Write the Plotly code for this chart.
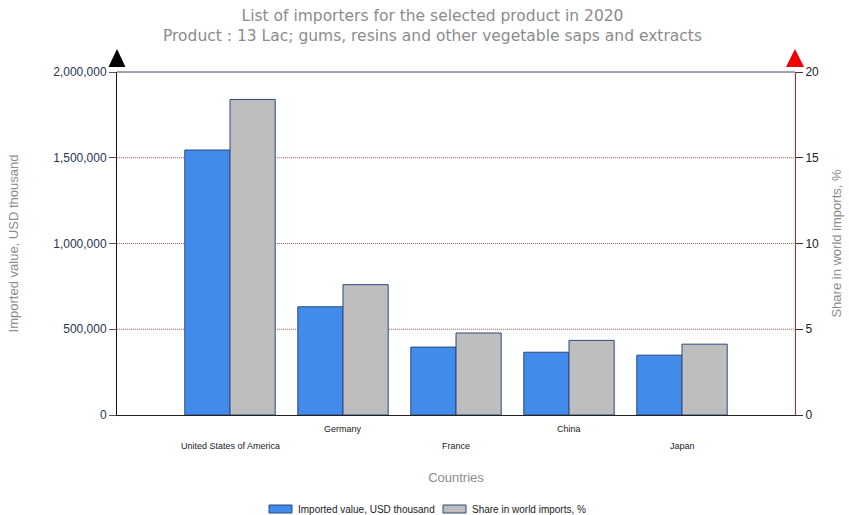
import plotly.graph_objects as go

countries = ["United States of America", "Germany", "France", "China", "Japan"]
imported_value = [1545000, 631000, 396000, 366000, 349000]   # USD thousand
world_share = [18.4, 7.6, 4.78, 4.35, 4.13]                   # %
positions = [1, 2, 3, 4, 5]
left_ticks = [0, 500000, 1000000, 1500000, 2000000]
right_ticks = [0, 5, 10, 15, 20]
series_names = ["Imported value, USD thousand", "Share in world imports, %"]

BLUE = "#428BEA"
GRAY = "#BEBEBE"
EDGE = "#2B4A7A"
TITLE_GRAY = "#8C8C8C"
SANS = "Liberation Sans, Arial"

# plot area in pixels: x 117..795, y 72..415
PX_L, PX_R, PX_T, PX_B = 117, 795, 72, 415


def px_x(px):
    return (px - PX_L) / (PX_R - PX_L)


def px_y(py):
    return (PX_B - py) / (PX_B - PX_T)


fig = go.Figure()
fig.add_trace(go.Bar(
    x=positions, y=imported_value, name=series_names[0],
    marker=dict(color=BLUE, line=dict(color=EDGE, width=1)),
    width=0.4, offset=-0.4, yaxis="y", showlegend=False,
))
fig.add_trace(go.Bar(
    x=positions, y=world_share, name=series_names[1],
    marker=dict(color=GRAY, line=dict(color=EDGE, width=1)),
    width=0.4, offset=0.0, yaxis="y2", showlegend=False,
))

annotations = []
# two-line chart title
annotations.append(dict(
    text="List of importers for the selected product in 2020<br>Product : 13 Lac; gums, resins and other vegetable saps and extracts",
    x=px_x(432), xref="paper", xanchor="center", y=1, yref="paper", yanchor="bottom",
    yshift=25, showarrow=False,
    font=dict(family="DejaVu Sans, Verdana", size=15.5, color=TITLE_GRAY),
))
# staggered category labels below the axis
for i, (p, c) in enumerate(zip(positions, countries)):
    annotations.append(dict(
        x=p, xref="x", y=0, yref="paper", yanchor="top",
        yshift=-24 if i % 2 == 0 else -7, showarrow=False, text=c,
        font=dict(family=SANS, size=9, color="#222222"),
    ))

shapes = []
# red dotted gridlines at the inner value ticks, behind the bars
for v in left_ticks[1:-1]:
    shapes.append(dict(type="line", xref="paper", yref="y", x0=0, x1=1, y0=v, y1=v,
                       layer="below", line=dict(color="#F04848", width=1, dash="1px,1px")))

# legend row at the bottom
legend_items = [(BLUE, 269, 292, 296), (GRAY, 443, 466, 470)]
for (col, x0, x1, tx), name in zip(legend_items, series_names):
    shapes.append(dict(type="rect", xref="paper", yref="paper",
                       x0=px_x(x0), x1=px_x(x1), y0=px_y(513), y1=px_y(505),
                       fillcolor=col, line=dict(color=EDGE, width=1)))
    annotations.append(dict(
        text=name, x=px_x(tx), xref="paper", xanchor="left",
        y=px_y(509), yref="paper", yanchor="middle", showarrow=False,
        font=dict(family=SANS, size=10, color="#222222"),
    ))

# frame line along the top of the plot area
shapes.append(dict(type="line", xref="paper", yref="paper", x0=0, x1=1, y0=1, y1=1,
                   line=dict(color="#3A4A66", width=1)))
# arrowheads at the top of both value axes
shapes.append(dict(type="path", xref="paper", yref="paper", xsizemode="pixel", ysizemode="pixel",
                   xanchor=0, yanchor=1, path="M -8.5,5 L 8.5,5 L 0,23 Z",
                   fillcolor="black", line=dict(width=0)))
shapes.append(dict(type="path", xref="paper", yref="paper", xsizemode="pixel", ysizemode="pixel",
                   xanchor=1, yanchor=1, path="M -9,5 L 9,5 L 0,23 Z",
                   fillcolor="#F00000", line=dict(width=0)))

fig.update_layout(
    width=849, height=515,
    margin=dict(l=PX_L, r=849 - PX_R, t=PX_T, b=515 - PX_B),
    paper_bgcolor="white", plot_bgcolor="white",
    barmode="overlay",
    showlegend=False,
    xaxis=dict(
        range=[0, 6], tickvals=positions, showticklabels=False, ticks="",
        showgrid=False, zeroline=False, showline=True, linecolor="#222222", linewidth=1,
        automargin=False,
        title=dict(text="Countries", standoff=57,
                   font=dict(family=SANS, size=13, color=TITLE_GRAY)),
    ),
    yaxis=dict(
        range=[0, 2000000], tickvals=left_ticks, tickformat=",d",
        ticks="outside", ticklen=7, tickcolor="#555555",
        tickfont=dict(family=SANS, size=12, color="#2A3550"),
        showgrid=False, zeroline=False, showline=True, linecolor="#111111", linewidth=1,
        automargin=False,
        title=dict(text="Imported value, USD thousand", standoff=31,
                   font=dict(family=SANS, size=13, color=TITLE_GRAY)),
    ),
    yaxis2=dict(
        range=[0, 20], tickvals=right_ticks, overlaying="y", side="right",
        ticks="outside", ticklen=7, tickcolor="#333333",
        tickfont=dict(family=SANS, size=12, color="#222222"),
        showgrid=False, zeroline=False, showline=True, linecolor="#E01818", linewidth=1,
        automargin=False,
        title=dict(text="Share in world imports, %", standoff=13,
                   font=dict(family=SANS, size=13, color=TITLE_GRAY)),
    ),
    annotations=annotations,
    shapes=shapes,
)

fig.write_html("out.html")
